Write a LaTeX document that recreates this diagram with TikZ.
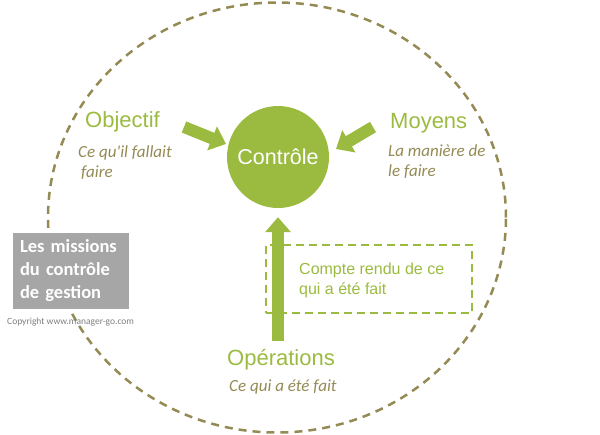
\documentclass[tikz,border=0pt]{standalone}
\usepackage{fontspec}
\setmainfont{Liberation Sans}
\newfontfamily\calfont{Carlito}
\usetikzlibrary{arrows.meta}
\definecolor{vert}{RGB}{155,187,64}
\definecolor{olivebrun}{RGB}{148,138,84}
\definecolor{grisbox}{RGB}{166,166,166}
\definecolor{grisc}{RGB}{127,127,127}
\tikzset{
  titre/.style={anchor=base west, inner sep=0pt, text=vert, font=\fontsize{22}{26}\selectfont},
  sous/.style={anchor=base west, inner sep=0pt, text=olivebrun, align=left, font=\calfont\itshape\fontsize{17}{20}\selectfont},
  fleche/.style={draw=vert, line width=12pt, -{Triangle[length=15pt, width=25pt]}},
}
\begin{document}
\begin{tikzpicture}[x=1pt,y=-1pt]
\useasboundingbox (0,0) rectangle (600,434);
% big dashed ellipse
\draw[olivebrun, line width=2.5pt, dash pattern=on 8pt off 6pt] (277,217.5) ellipse [x radius=229pt, y radius=215pt];
% central circle
\node[circle, fill=vert, minimum size=102pt, inner sep=0pt, text=white, font=\fontsize{21.5}{26}\selectfont] (ctrl) at (278,157) {Contrôle};
% headings
\node[titre] (obj) at (85,127) {Objectif};
\node[titre] (moy) at (390,128) {Moyens};
\node[titre] (ops) at (227,365) {Opérations};
% sub texts (base = last line)
\node[sous] (objsub) at (78,177) {Ce qu'il fallait\\\hspace{3pt}faire};
\node[sous] (moysub) at (388,176) {La manière de\\le faire};
\node[sous] (opssub) at (229,391) {Ce qui a été fait};
% dashed report box
\node[draw=vert, line width=2pt, dash pattern=on 8pt off 5pt, minimum width=206pt, minimum height=68pt, inner sep=0pt] (crbox) at (369,279) {};
\node[anchor=base west, inner sep=0pt, text=vert, align=left, font=\fontsize{16}{20}\selectfont] (crtext) at (299,294) {Compte rendu de ce\\qui a été fait};
% arrows
\coordinate (objtail) at (184,127);
\coordinate (objtip) at (226,144);
\coordinate (moytail) at (373,127);
\coordinate (moytip) at (336,149);
\coordinate (opstail) at (278,341);
\draw[fleche] (objtail) -- (objtip);
\draw[fleche] (moytail) -- (moytip);
\draw[fleche, shorten >=9pt] (opstail) -- (ctrl);
% grey box
\node[fill=grisbox, minimum width=116pt, minimum height=76pt, inner xsep=7pt, inner ysep=0pt, text width=102pt, align=left, text=white, font=\calfont\bfseries\fontsize{18.5}{23}\selectfont] (missions) at (71,271) {Les missions\\du contrôle\\de gestion};
\node[anchor=base west, inner sep=0pt, text=grisc, font=\calfont\fontsize{9.5}{11}\selectfont] (copy) at (7,324) {Copyright www.manager-go.com};
\end{tikzpicture}
\end{document}
